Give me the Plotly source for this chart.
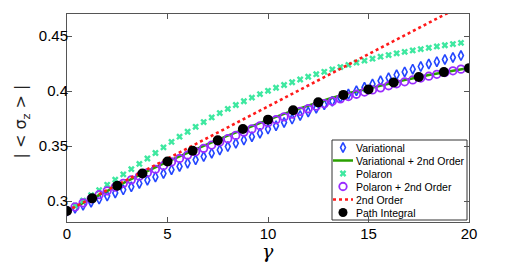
import plotly.graph_objects as go

# ---- data ----
gamma_dense = [round(0.4 * i, 1) for i in range(50)]  # 0 .. 19.6 step 0.4

variational = [0.291, 0.2935, 0.2962, 0.299, 0.3018, 0.3046, 0.3074, 0.3102, 0.313, 0.316,
               0.319, 0.322, 0.325, 0.3285, 0.3315, 0.3345, 0.3375, 0.3405, 0.3435, 0.3465,
               0.3495, 0.3525, 0.3555, 0.3585, 0.3617, 0.3655, 0.3685, 0.3715, 0.3745, 0.3778,
               0.381, 0.3843, 0.3876, 0.3908, 0.394, 0.3972, 0.4003, 0.4034, 0.4064, 0.4093,
               0.4121, 0.4148, 0.4174, 0.4199, 0.4223, 0.4246, 0.4267, 0.4287, 0.4305, 0.4322]

polaron = [0.291, 0.2958, 0.3005, 0.3053, 0.31, 0.3148, 0.3195, 0.3243, 0.329, 0.3338,
           0.3387, 0.3437, 0.3488, 0.3538, 0.3585, 0.363, 0.3675, 0.3718, 0.376, 0.38,
           0.3838, 0.3873, 0.3907, 0.394, 0.3972, 0.4002, 0.403, 0.4055, 0.408, 0.4105,
           0.413, 0.4153, 0.4175, 0.4197, 0.4218, 0.4238, 0.4258, 0.4276, 0.4294, 0.4312,
           0.4327, 0.4343, 0.4356, 0.4369, 0.4381, 0.4393, 0.4405, 0.4416, 0.4427, 0.4438]

polaron_2nd = [0.291, 0.2947, 0.2984, 0.3021, 0.3058, 0.3093, 0.3127, 0.3161, 0.3193, 0.3225,
               0.3257, 0.3289, 0.3321, 0.3355, 0.3387, 0.3418, 0.3449, 0.3479, 0.3509, 0.3538,
               0.3567, 0.3597, 0.3627, 0.3656, 0.3684, 0.3712, 0.3739, 0.3765, 0.379, 0.3815,
               0.3839, 0.3862, 0.3885, 0.3907, 0.3929, 0.395, 0.3971, 0.3991, 0.401, 0.4029,
               0.4048, 0.4066, 0.4084, 0.4101, 0.4118, 0.4135, 0.4152, 0.4168, 0.4184, 0.4199]

gamma_line = list(range(21))
variational_2nd = [0.291, 0.3002, 0.3095, 0.3185, 0.3272, 0.3358, 0.344, 0.3518, 0.3594, 0.3668,
                   0.3738, 0.3806, 0.387, 0.3928, 0.398, 0.4025, 0.4068, 0.4108, 0.4145, 0.418, 0.421]
second_order = [0.291, 0.3005, 0.310, 0.3195, 0.329, 0.3385, 0.348, 0.3575, 0.367, 0.3765,
                0.386, 0.3955, 0.405, 0.4145, 0.424, 0.4335, 0.443, 0.4525, 0.462, 0.4715, 0.481]

gamma_pi = [0, 1.25, 2.5, 3.75, 5, 6.25, 7.5, 8.75, 10, 11.25, 12.5, 13.75, 15, 16.25, 17.5, 18.75, 20]
path_integral = [0.291, 0.3025, 0.314, 0.325, 0.336, 0.3457, 0.3552, 0.3655, 0.374, 0.3825,
                 0.3897, 0.3965, 0.4015, 0.4078, 0.4127, 0.4172, 0.4208]

x_ticks = [0, 5, 10, 15, 20]
y_ticks = [0.3, 0.35, 0.4, 0.45]
y_tick_text = ["0.3", "0.35", "0.4", "0.45"]

legend_labels = ["Variational", "Variational + 2nd Order", "Polaron",
                 "Polaron + 2nd Order", "2nd Order", "Path Integral"]

# ---- styles ----
C_VAR = "#2346ff"
C_VAR2 = "#2aa000"
C_POL = "#3ee8a0"
C_POL2 = "#9a2cff"
C_2ND = "#ff1a1a"
FONT = "Liberation Sans, Arial, sans-serif"

var_marker = dict(symbol="diamond-tall-open", size=7, color=C_VAR, line=dict(width=1.6, color=C_VAR))
pol_marker = dict(symbol="x", size=6, color=C_POL, line=dict(width=0))
pol2_marker = dict(symbol="circle-open", size=7.5, color=C_POL2, line=dict(width=1.8, color=C_POL2))
pi_marker = dict(symbol="circle", size=10, color="black")
var2_line = dict(color=C_VAR2, width=2.5)
second_line = dict(color=C_2ND, width=2.6, dash="3px,3px")

fig = go.Figure()
fig.add_trace(go.Scatter(x=gamma_dense, y=variational, mode="markers", name=legend_labels[0], marker=var_marker))
fig.add_trace(go.Scatter(x=gamma_line, y=variational_2nd, mode="lines", name=legend_labels[1], line=var2_line))
fig.add_trace(go.Scatter(x=gamma_dense, y=polaron, mode="markers", name=legend_labels[2], marker=pol_marker))
fig.add_trace(go.Scatter(x=gamma_dense, y=polaron_2nd, mode="markers", name=legend_labels[3], marker=pol2_marker))
fig.add_trace(go.Scatter(x=gamma_line, y=second_order, mode="lines", name=legend_labels[4], line=second_line))
fig.add_trace(go.Scatter(x=gamma_pi, y=path_integral, mode="markers", name=legend_labels[5], marker=pi_marker))

# ---- compact legend drawn on an overlay axis measured in pixels ----
PL, PR, PT, PB = 67, 469, 14, 222
box_l, box_r, box_t, box_b = 332, 467, 140, 220
row_y = [147.5, 160.5, 173.5, 186.5, 199.5, 212.5]
sym_x = 343
line_x0, line_x1 = 333, 353
text_x = 353.5

fig.add_trace(go.Scatter(x=[box_l, box_r, box_r, box_l, box_l], y=[box_t, box_t, box_b, box_b, box_t],
                         xaxis="x2", yaxis="y2", mode="lines", fill="toself", fillcolor="white",
                         line=dict(color="#333333", width=1), hoverinfo="skip", showlegend=False))
fig.add_trace(go.Scatter(x=[sym_x], y=[row_y[0]], xaxis="x2", yaxis="y2", mode="markers",
                         marker=var_marker, showlegend=False, hoverinfo="skip"))
fig.add_trace(go.Scatter(x=[line_x0, line_x1], y=[row_y[1]] * 2, xaxis="x2", yaxis="y2", mode="lines",
                         line=var2_line, showlegend=False, hoverinfo="skip"))
fig.add_trace(go.Scatter(x=[sym_x], y=[row_y[2]], xaxis="x2", yaxis="y2", mode="markers",
                         marker=pol_marker, showlegend=False, hoverinfo="skip"))
fig.add_trace(go.Scatter(x=[sym_x], y=[row_y[3]], xaxis="x2", yaxis="y2", mode="markers",
                         marker=pol2_marker, showlegend=False, hoverinfo="skip"))
fig.add_trace(go.Scatter(x=[line_x0, line_x1], y=[row_y[4]] * 2, xaxis="x2", yaxis="y2", mode="lines",
                         line=second_line, showlegend=False, hoverinfo="skip"))
fig.add_trace(go.Scatter(x=[sym_x], y=[row_y[5]], xaxis="x2", yaxis="y2", mode="markers",
                         marker=dict(symbol="circle", size=9, color="black"), showlegend=False, hoverinfo="skip"))

annotations = [
    dict(text=lab, xref="x2", yref="y2", x=text_x, y=yy, showarrow=False, xanchor="left",
         yanchor="middle", font=dict(family=FONT, size=10.5, color="black"))
    for lab, yy in zip(legend_labels, row_y)
]
annotations += [
    dict(text="<i>γ</i>", xref="paper", yref="paper", x=0.5, y=-0.138, showarrow=False,
         font=dict(family="DejaVu Serif, serif", size=19, color="black"),
         xanchor="center", yanchor="middle"),
    dict(text="| < σ<sub>z</sub> > |", xref="paper", yref="paper", x=-0.112, y=0.483,
         showarrow=False, textangle=-90,
         font=dict(family="DejaVu Sans, sans-serif", size=16, color="#222222"),
         xanchor="center", yanchor="middle"),
]

axis_common = dict(showgrid=False, zeroline=False, showline=True, linecolor="#555555",
                   linewidth=1, mirror="ticks", ticks="inside", ticklen=5, tickcolor="#555555",
                   tickfont=dict(family=FONT, size=15, color="black"))

fig.update_layout(
    width=519, height=268,
    margin=dict(l=PL, r=519 - PR, t=PT, b=268 - PB),
    paper_bgcolor="white", plot_bgcolor="white",
    showlegend=False,
    xaxis=dict(range=[0, 20], tickvals=x_ticks, ticklabelstandoff=-2, **axis_common),
    yaxis=dict(range=[0.281, 0.47], tickvals=y_ticks, ticktext=y_tick_text, ticklabelstandoff=-5,
               **axis_common),
    xaxis2=dict(overlaying="x", range=[PL, PR], visible=False, fixedrange=True),
    yaxis2=dict(overlaying="y", range=[PB, PT], visible=False, fixedrange=True),
    annotations=annotations,
)

fig.write_html("out.html", config={"displayModeBar": False},
               post_script="document.body.style.margin='0';document.body.style.overflow='hidden';")
